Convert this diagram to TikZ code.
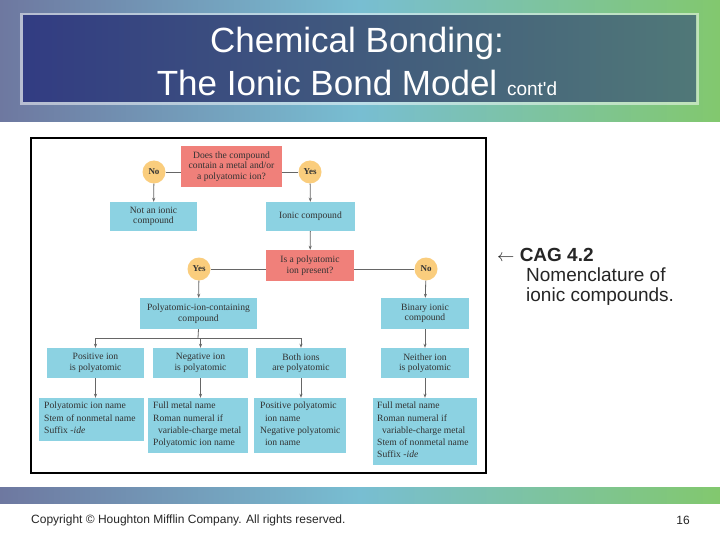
\documentclass[tikz,border=0pt]{standalone}
\usepackage{fontspec}
\setmainfont{Liberation Serif}
\newfontfamily\arial{Liberation Sans}
\usetikzlibrary{arrows.meta}
\definecolor{qred}{RGB}{240,128,122}
\definecolor{ansb}{RGB}{140,210,226}
\definecolor{circ}{RGB}{250,205,125}
\definecolor{hdarkL}{RGB}{50,60,130}
\definecolor{hdarkR}{RGB}{80,120,120}
\definecolor{hbgL}{RGB}{110,120,160}
\definecolor{hbgM}{RGB}{120,190,210}
\definecolor{hbgR}{RGB}{130,200,110}
\begin{document}
\begin{tikzpicture}[x=1pt,y=-1pt,
  q/.style={fill=qred,draw=none,inner sep=0pt,align=center,font=\fontsize{9.6}{10.5}\selectfont,text=black!80},
  a/.style={fill=ansb,draw=none,inner sep=0pt,align=center,font=\fontsize{9.6}{10.5}\selectfont,text=black!80},
  d/.style={fill=ansb,draw=none,inner sep=0pt,font=\fontsize{9.6}{12.2}\selectfont,text=black!80},
  c/.style={circle,fill=circ,minimum size=23pt,inner sep=0pt,font=\bfseries\fontsize{9}{10}\selectfont,text=black!80},
  ln/.style={draw=black!60,line width=0.8pt},
  ar/.style={ln,-{Stealth[length=4pt,width=3pt]}}]
\useasboundingbox (0,0) rectangle (720,540);
\fill[white] (0,0) rectangle (720,540);
% header
\shade[left color=hbgL,right color=hbgR,middle color=hbgM] (0,0) rectangle (720,122);
\fill[white,opacity=0.5] (20,13) rectangle (699,105);
\shade[left color=hdarkL,right color=hdarkR] (23,16) rectangle (696,102);
\node[text=white,font=\arial\fontsize{35}{38}\selectfont] (t1) at (357,43) {Chemical Bonding:};
\node[text=white,font=\arial\fontsize{35}{38}\selectfont,anchor=base] (t2) at (357,96) {The Ionic Bond Model {\fontsize{19}{20}\selectfont cont'd}};
% footer bar
\shade[left color=hbgL,right color=hbgR,middle color=hbgM] (0,487) rectangle (720,503);
\node[anchor=west,inner sep=0pt,font=\arial\fontsize{12}{13}\selectfont,text=black!85] (cp) at (31,520) {Copyright © Houghton Mifflin Company. All rights reserved.};
\node[font=\arial\fontsize{12}{13}\selectfont,text=black!85] (pg) at (683,520) {16};
% right text
\node[anchor=north west,align=left,inner sep=0pt,font=\arial\fontsize{19}{20}\selectfont,text=black!85] (cag) at (497,248) {$\leftarrow$ \textbf{CAG 4.2}\\\hspace{29pt}Nomenclature of\\\hspace{29pt}ionic compounds.};
% figure frame
\draw[line width=2pt] (31,138) rectangle (486,473);
% nodes
\node[q,minimum width=101pt,minimum height=41pt] (q1) at (231.5,166.5) {Does the compound\\contain a metal and/or\\a polyatomic ion?};
\node[c] (no1) at (154,172) {No};
\node[c] (yes1) at (310,172) {Yes};
\node[a,minimum width=87pt,minimum height=29pt] (nic) at (153.5,216.5) {Not an ionic\\compound};
\node[a,minimum width=89pt,minimum height=29pt] (ic) at (310.5,216.5) {Ionic compound};
\node[q,minimum width=88pt,minimum height=31pt] (q2) at (310,265.5) {Is a polyatomic\\ion present?};
\node[c] (yes2) at (199,269) {Yes};
\node[c] (no2) at (426,269) {No};
\node[a,minimum width=117pt,minimum height=31pt] (poly) at (198.5,313.5) {Polyatomic-ion-containing\\compound};
\node[a,minimum width=88pt,minimum height=31pt] (bin) at (425,313.5) {Binary ionic\\compound};
\node[a,minimum width=97pt,minimum height=30pt] (pos) at (95.5,363) {Positive ion\\is polyatomic};
\node[a,minimum width=95pt,minimum height=30pt] (neg) at (200.5,363) {Negative ion\\is polyatomic};
\node[a,minimum width=90pt,minimum height=30pt] (both) at (301,363) {Both ions\\are polyatomic};
\node[a,minimum width=88pt,minimum height=30pt] (nei) at (425,363) {Neither ion\\is polyatomic};
\node[d,minimum width=105pt,minimum height=43pt] (posd) at (91.5,419.5) {};
\node[d,minimum width=100pt,minimum height=55pt] (negd) at (198,425.5) {};
\node[d,minimum width=92pt,minimum height=55pt] (bothd) at (300,425.5) {};
\node[d,minimum width=104pt,minimum height=67pt] (neid) at (425,431.5) {};
\node[d,anchor=north west,align=left,fill=none] (posdt) at (44,402) {Polyatomic ion name\\Stem of nonmetal name\\Suffix \textit{-ide}};
\node[d,anchor=north west,align=left,fill=none] (negdt) at (153,402) {Full metal name\\Roman numeral if\\\ \ variable-charge metal\\Polyatomic ion name};
\node[d,anchor=north west,align=left,fill=none] (bothdt) at (260,402) {Positive polyatomic\\\ \ ion name\\Negative polyatomic\\\ \ ion name};
\node[d,anchor=north west,align=left,fill=none] (neidt) at (377,402) {Full metal name\\Roman numeral if\\\ \ variable-charge metal\\Stem of nonmetal name\\Suffix \textit{-ide}};
% connectors
\draw[ln] (no1) -- (q1.west |- no1);
\draw[ln] (q1.east |- yes1) -- (yes1);
\draw[ar] (no1) -- (nic);
\draw[ar] (yes1) -- (ic);
\draw[ar] (ic) -- (q2);
\draw[ln] (yes2) -- (q2.west |- yes2);
\draw[ln] (q2.east |- no2) -- (no2);
\draw[ar] (yes2) -- (poly);
\draw[ar] (no2) -- (bin);
\coordinate (bus) at (198,338);
\draw[ln] (poly.south) -- (bus);
\draw[ln] (pos.north |- bus) -- (both.north |- bus);
\draw[ar] (pos.north |- bus) -- (pos.north);
\draw[ar] (neg.north |- bus) -- (neg.north);
\draw[ar] (both.north |- bus) -- (both.north);
\draw[ar] (bin) -- (nei);
\draw[ar] (pos) -- (pos.south |- posd.north);
\draw[ar] (neg) -- (neg.south |- negd.north);
\draw[ar] (both) -- (both.south |- bothd.north);
\draw[ar] (nei) -- (nei.south |- neid.north);
\end{tikzpicture}
\end{document}
